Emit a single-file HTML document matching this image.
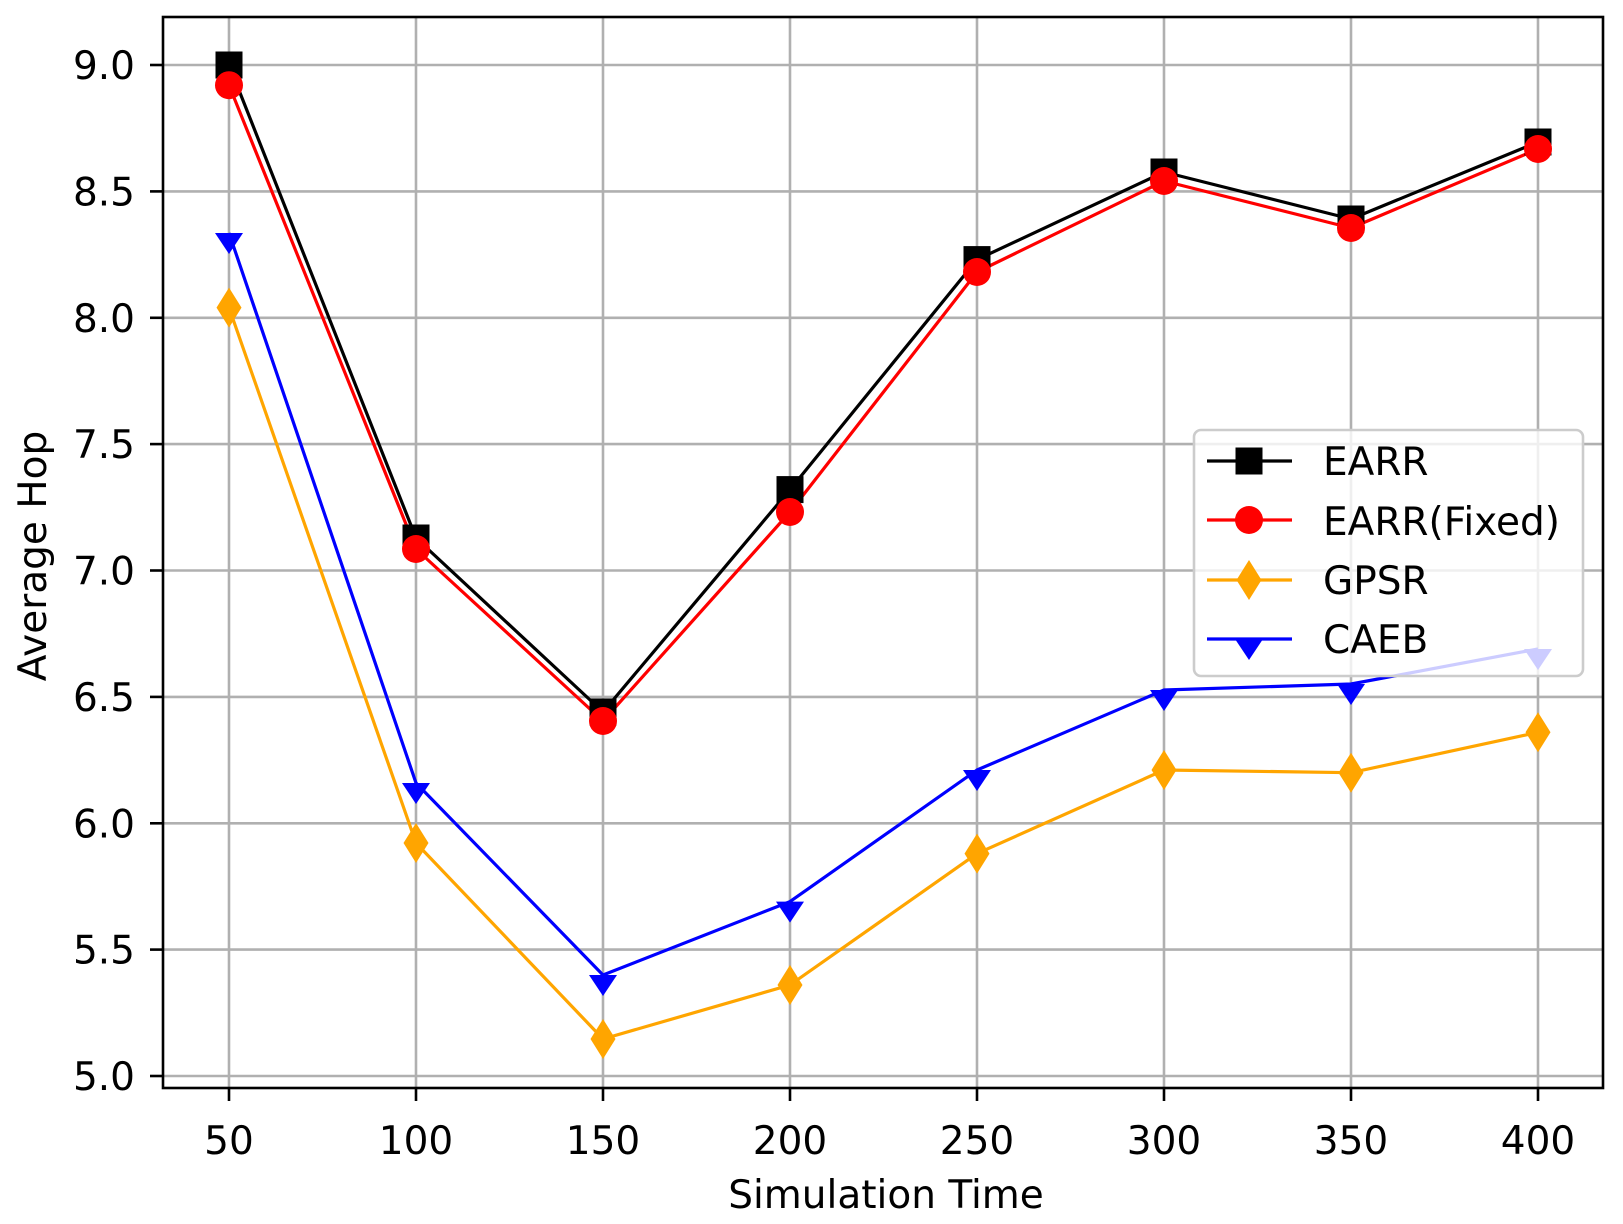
<!DOCTYPE html>
<html><head><meta charset="utf-8"><style>
html,body{margin:0;padding:0;background:#fff;}
svg{display:block;}
text{font-family:"DejaVu Sans","Liberation Sans",sans-serif;fill:#000;}
</style></head><body>
<svg width="1623" height="1224" viewBox="0 0 1623 1224" xmlns="http://www.w3.org/2000/svg">
<defs>
<clipPath id="c"><rect x="163" y="17" width="1440" height="1071"/></clipPath>
<rect id="sq" x="-13.5" y="-13.5" width="27" height="27" fill="#000"/>
<circle id="ci" r="14" fill="#ff0000"/>
<polygon id="di" points="0,-20 12.5,0 0,20 -12.5,0" fill="#ffa500"/>
<polygon id="tr" points="-14,0 14,0 0,21" fill="#0000ff"/>
</defs>
<rect width="1623" height="1224" fill="#fff"/>
<g stroke="#b0b0b0" stroke-width="2.6">
<line x1="229" y1="17" x2="229" y2="1088"/><line x1="416" y1="17" x2="416" y2="1088"/>
<line x1="603" y1="17" x2="603" y2="1088"/><line x1="790" y1="17" x2="790" y2="1088"/>
<line x1="977" y1="17" x2="977" y2="1088"/><line x1="1164" y1="17" x2="1164" y2="1088"/>
<line x1="1351" y1="17" x2="1351" y2="1088"/><line x1="1538" y1="17" x2="1538" y2="1088"/>
<line x1="163" y1="65" x2="1603" y2="65"/><line x1="163" y1="191.4" x2="1603" y2="191.4"/>
<line x1="163" y1="317.8" x2="1603" y2="317.8"/><line x1="163" y1="444.1" x2="1603" y2="444.1"/>
<line x1="163" y1="570.5" x2="1603" y2="570.5"/><line x1="163" y1="696.9" x2="1603" y2="696.9"/>
<line x1="163" y1="823.3" x2="1603" y2="823.3"/><line x1="163" y1="949.6" x2="1603" y2="949.6"/>
<line x1="163" y1="1076" x2="1603" y2="1076"/>
</g>
<g clip-path="url(#c)" fill="none" stroke-width="3.2" stroke-linejoin="round">
<polyline stroke="#000" points="229,65 416,538 603,712 790,489.6 977,259.6 1164,172 1351,219 1538,142"/>
<polyline stroke="#ff0000" points="229,85.2 416,549 603,721 790,512 977,272 1164,181 1351,228 1538,149"/>
<polyline stroke="#ffa500" points="229,307.6 416,843 603,1039 790,985 977,853.6 1164,770 1351,772.7 1538,732.3"/>
<polyline stroke="#0000ff" points="229,233 416,783 603,975 790,901.6 977,770 1164,690 1351,684 1538,649"/>
</g>
<g>
<use href="#sq" x="229" y="65"/><use href="#sq" x="416" y="538"/><use href="#sq" x="603" y="712"/><use href="#sq" x="790" y="489.6"/><use href="#sq" x="977" y="259.6"/><use href="#sq" x="1164" y="172"/><use href="#sq" x="1351" y="219"/><use href="#sq" x="1538" y="142"/>
<use href="#ci" x="229" y="85.2"/><use href="#ci" x="416" y="549"/><use href="#ci" x="603" y="721"/><use href="#ci" x="790" y="512"/><use href="#ci" x="977" y="272"/><use href="#ci" x="1164" y="181"/><use href="#ci" x="1351" y="228"/><use href="#ci" x="1538" y="149"/>
<use href="#di" x="229" y="307.6"/><use href="#di" x="416" y="843"/><use href="#di" x="603" y="1039"/><use href="#di" x="790" y="985"/><use href="#di" x="977" y="853.6"/><use href="#di" x="1164" y="770"/><use href="#di" x="1351" y="772.7"/><use href="#di" x="1538" y="732.3"/>
<use href="#tr" x="229" y="233"/><use href="#tr" x="416" y="783"/><use href="#tr" x="603" y="975"/><use href="#tr" x="790" y="901.6"/><use href="#tr" x="977" y="770"/><use href="#tr" x="1164" y="690"/><use href="#tr" x="1351" y="684"/><use href="#tr" x="1538" y="649"/>
</g>
<rect x="1194" y="430" width="389" height="246" rx="7" fill="#fff" fill-opacity="0.8" stroke="#cccccc" stroke-width="2.6"/>
<g stroke-width="3.2">
<line x1="1207" y1="461" x2="1292" y2="461" stroke="#000"/><use href="#sq" x="1249" y="461"/>
<line x1="1207" y1="520" x2="1292" y2="520" stroke="#ff0000"/><use href="#ci" x="1249" y="520"/>
<line x1="1207" y1="580" x2="1292" y2="580" stroke="#ffa500"/><use href="#di" x="1249" y="580"/>
<line x1="1207" y1="639" x2="1292" y2="639" stroke="#0000ff"/><use href="#tr" x="1249" y="639"/>
</g>
<g font-size="39">
<text x="1323" y="475">EARR</text>
<text x="1323" y="535">EARR(Fixed)</text>
<text x="1323" y="594">GPSR</text>
<text x="1323" y="653">CAEB</text>
</g>
<rect x="163" y="17" width="1440" height="1071" fill="none" stroke="#000" stroke-width="2.6"/>
<g stroke="#000" stroke-width="2.6">
<line x1="229" y1="1088" x2="229" y2="1101"/><line x1="416" y1="1088" x2="416" y2="1101"/>
<line x1="603" y1="1088" x2="603" y2="1101"/><line x1="790" y1="1088" x2="790" y2="1101"/>
<line x1="977" y1="1088" x2="977" y2="1101"/><line x1="1164" y1="1088" x2="1164" y2="1101"/>
<line x1="1351" y1="1088" x2="1351" y2="1101"/><line x1="1538" y1="1088" x2="1538" y2="1101"/>
<line x1="150" y1="65" x2="163" y2="65"/><line x1="150" y1="191.4" x2="163" y2="191.4"/>
<line x1="150" y1="317.8" x2="163" y2="317.8"/><line x1="150" y1="444.1" x2="163" y2="444.1"/>
<line x1="150" y1="570.5" x2="163" y2="570.5"/><line x1="150" y1="696.9" x2="163" y2="696.9"/>
<line x1="150" y1="823.3" x2="163" y2="823.3"/><line x1="150" y1="949.6" x2="163" y2="949.6"/>
<line x1="150" y1="1076" x2="163" y2="1076"/>
</g>
<g font-size="39" text-anchor="middle">
<text x="229" y="1154">50</text><text x="416" y="1154">100</text><text x="603" y="1154">150</text><text x="790" y="1154">200</text>
<text x="977" y="1154">250</text><text x="1164" y="1154">300</text><text x="1351" y="1154">350</text><text x="1538" y="1154">400</text>
</g>
<g font-size="39" text-anchor="end">
<text x="135" y="79">9.0</text><text x="135" y="205.4">8.5</text><text x="135" y="331.8">8.0</text>
<text x="135" y="458.1">7.5</text><text x="135" y="584.5">7.0</text><text x="135" y="710.9">6.5</text>
<text x="135" y="837.3">6.0</text><text x="135" y="963.6">5.5</text><text x="135" y="1090">5.0</text>
</g>
<text x="886" y="1208" font-size="39" text-anchor="middle">Simulation Time</text>
<text transform="translate(46,556) rotate(-90)" font-size="39" text-anchor="middle">Average Hop</text>
</svg>
</body></html>
